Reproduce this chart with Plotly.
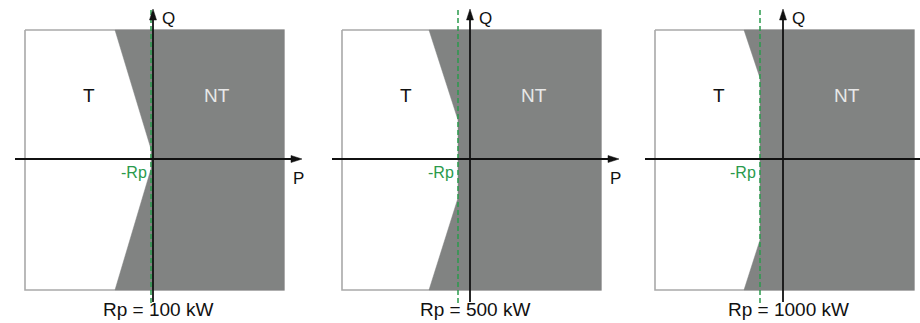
import plotly.graph_objects as go

# ---- data (schematic units, 1 unit ~ 1 px) ----
rp_labels = ["Rp = 100 kW", "Rp = 500 kW", "Rp = 1000 kW"]
rp_offset = [2, 12, 23]          # position of -Rp on P axis
knee_q = [10, 39, 81]            # |Q| where the sloped boundary meets -Rp
top_p = [-38, -41, -39]          # P where the sloped boundary meets box top/bottom
box_p = [-128, 131]              # P extent of the box
box_q = [-131, 129]              # Q extent of the box
region_labels = ["T", "NT"]

# ---- layout constants ----
W, H = 920, 323
q_axis_px = [153, 470, 783]
x_ranges = [[-140, 150], [-140, 150], [-140, 137]]
y_range = [-164, 159]
GRAY = "#818382"
GREEN = "#2a9a4c"
FONT = "Liberation Sans, Arial, sans-serif"

fig = go.Figure()
layout_axes = {}
for i in range(3):
    xa = "x" if i == 0 else f"x{i+1}"
    ya = "y" if i == 0 else f"y{i+1}"
    xr = x_ranges[i]
    d0 = (q_axis_px[i] + xr[0]) / W
    d1 = min(1.0, (q_axis_px[i] + xr[1]) / W)
    key = "" if i == 0 else str(i + 1)
    layout_axes["xaxis" + key] = dict(domain=[d0, d1], range=xr, visible=False, fixedrange=True)
    layout_axes["yaxis" + key] = dict(domain=[0, 1], range=y_range, visible=False, fixedrange=True)

    rp = rp_offset[i]
    kq = knee_q[i]
    tp = top_p[i]
    # white box with gray outline
    fig.add_trace(go.Scatter(
        x=[box_p[0], box_p[1], box_p[1], box_p[0], box_p[0]],
        y=[box_q[1], box_q[1], box_q[0], box_q[0], box_q[1]],
        mode="lines", fill="toself", fillcolor="white",
        line=dict(color="#a9a9a9", width=1.6),
        xaxis=xa, yaxis=ya, showlegend=False, hoverinfo="skip"))
    # NT gray region
    fig.add_trace(go.Scatter(
        x=[tp, box_p[1], box_p[1], tp, -rp, -rp, tp],
        y=[box_q[1], box_q[1], box_q[0], box_q[0], -kq, kq, box_q[1]],
        mode="lines", fill="toself", fillcolor=GRAY,
        line=dict(color=GRAY, width=0.5),
        xaxis=xa, yaxis=ya, showlegend=False, hoverinfo="skip"))
    # -Rp dashed line
    fig.add_trace(go.Scatter(
        x=[-rp, -rp], y=[-144, 149], mode="lines",
        line=dict(color=GREEN, width=1.5, dash="5px,3px"),
        xaxis=xa, yaxis=ya, showlegend=False, hoverinfo="skip"))
    # Q axis
    fig.add_trace(go.Scatter(
        x=[0, 0], y=[-143, 140], mode="lines",
        line=dict(color="#111111", width=1.8),
        xaxis=xa, yaxis=ya, showlegend=False, hoverinfo="skip"))
    fig.add_trace(go.Scatter(
        x=[-3.5, 0, 3.5, -3.5], y=[139, 150, 139, 139], mode="lines",
        fill="toself", fillcolor="#111111", line=dict(color="#111111", width=0.5),
        xaxis=xa, yaxis=ya, showlegend=False, hoverinfo="skip"))
    # P axis
    fig.add_trace(go.Scatter(
        x=[-138, 139], y=[0, 0], mode="lines",
        line=dict(color="#111111", width=1.8),
        xaxis=xa, yaxis=ya, showlegend=False, hoverinfo="skip"))
    fig.add_trace(go.Scatter(
        x=[138, 149, 138, 138], y=[3.5, 0, -3.5, 3.5], mode="lines",
        fill="toself", fillcolor="#111111", line=dict(color="#111111", width=0.5),
        xaxis=xa, yaxis=ya, showlegend=False, hoverinfo="skip"))

    def ann(text, x, y, size, color="#111111", xanchor="center"):
        fig.add_annotation(text=text, x=x, y=y, xref=xa, yref=ya, showarrow=False,
                           font=dict(family=FONT, size=size, color=color),
                           xanchor=xanchor, yanchor="middle")

    ann(region_labels[0], -64, 64, 19)
    ann(region_labels[1], 64, 64, 19, color="#e8e8e8")
    ann("Q", 15, 141, 17)
    if x_ranges[i][1] > 145:
        ann("P", 145, -19, 17)
    ann("-Rp", -rp - 2, -13, 16, color=GREEN, xanchor="right")
    ann(rp_labels[i], 5, -150, 19)

fig.update_layout(
    width=W, height=H,
    margin=dict(l=0, r=0, t=0, b=0),
    paper_bgcolor="white", plot_bgcolor="rgba(0,0,0,0)",
    showlegend=False,
    **layout_axes)

fig.write_html("out.html",
               config={"displayModeBar": False, "staticPlot": True},
               post_script="document.body.style.margin='0';document.body.style.overflow='hidden';")
